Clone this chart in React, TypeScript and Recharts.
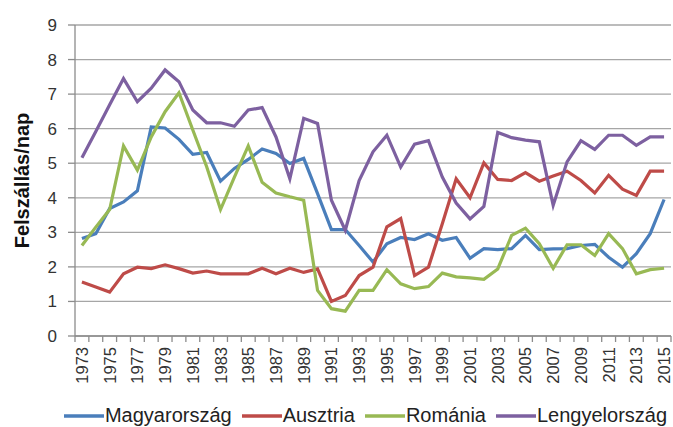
import { LineChart, Line, XAxis, YAxis, CartesianGrid, Legend } from "recharts";

const years = [
  1973, 1974, 1975, 1976, 1977, 1978, 1979, 1980, 1981, 1982, 1983, 1984, 1985, 1986,
  1987, 1988, 1989, 1990, 1991, 1992, 1993, 1994, 1995, 1996, 1997, 1998, 1999, 2000,
  2001, 2002, 2003, 2004, 2005, 2006, 2007, 2008, 2009, 2010, 2011, 2012, 2013, 2014, 2015,
];

const magyarorszag = [
  2.82, 2.96, 3.69, 3.88, 4.2, 6.05, 6.02, 5.69, 5.26, 5.31, 4.48, 4.85, 5.11, 5.41,
  5.28, 4.99, 5.14, 4.12, 3.08, 3.08, 2.62, 2.14, 2.67, 2.85, 2.79, 2.96, 2.77, 2.85,
  2.25, 2.53, 2.5, 2.53, 2.91, 2.5, 2.52, 2.53, 2.62, 2.65, 2.28, 1.99, 2.38, 2.96, 3.95,
];

const ausztria = [
  1.56, 1.42, 1.27, 1.8, 1.99, 1.95, 2.06, 1.95, 1.82, 1.88, 1.8, 1.8, 1.8, 1.96,
  1.8, 1.96, 1.84, 1.94, 1.0, 1.17, 1.75, 1.99, 3.16, 3.4, 1.75, 1.99, 3.25, 4.55,
  4.0, 5.01, 4.53, 4.5, 4.73, 4.48, 4.63, 4.77, 4.5, 4.14, 4.65, 4.25, 4.07, 4.77, 4.77,
];

const romania = [
  2.62, 3.15, 3.66, 5.5, 4.8, 5.76, 6.49, 7.04, 5.96, 4.9, 3.66, 4.6, 5.5, 4.45,
  4.14, 4.03, 3.93, 1.32, 0.79, 0.72, 1.32, 1.32, 1.92, 1.51, 1.37, 1.43, 1.82, 1.71,
  1.68, 1.64, 1.94, 2.91, 3.12, 2.67, 1.96, 2.64, 2.64, 2.33, 2.96, 2.53, 1.8, 1.92, 1.96,
];

const lengyelorszag = [
  5.16, 5.92, 6.69, 7.45, 6.78, 7.17, 7.7, 7.36, 6.54, 6.17, 6.17, 6.07, 6.54, 6.61,
  5.76, 4.55, 6.3, 6.15, 3.93, 3.06, 4.5, 5.33, 5.81, 4.89, 5.55, 5.65, 4.6, 3.85,
  3.39, 3.75, 5.89, 5.74, 5.67, 5.62, 3.78, 5.04, 5.65, 5.4, 5.81, 5.81, 5.52, 5.76, 5.76,
];

const yTicks = [0, 1, 2, 3, 4, 5, 6, 7, 8, 9];

const series = [
  { key: "hu", name: "Magyarország", color: "#4a7ebb" },
  { key: "at", name: "Ausztria", color: "#be4b48" },
  { key: "ro", name: "Románia", color: "#98b954" },
  { key: "pl", name: "Lengyelország", color: "#7d60a0" },
];

const data = years.map((year, i) => ({
  idx: i,
  year,
  hu: magyarorszag[i],
  at: ausztria[i],
  ro: romania[i],
  pl: lengyelorszag[i],
}));

// tick marks sit between years, labels on every other year
const xTicks: number[] = [];
for (let i = 0; i <= years.length; i++) {
  xTicks.push(i - 0.5);
  if (i < years.length && i % 2 === 0) xTicks.push(i);
}

const FONT = "'Liberation Sans', Arial, sans-serif";

const YearTick = (props: any) => {
  const { x, y, payload } = props;
  const v = payload.value as number;
  if (!Number.isInteger(v)) {
    return <line x1={x} x2={x} y1={y} y2={y + 6} stroke="#8c8c8c" strokeWidth={1.3} />;
  }
  return (
    <text
      x={x}
      y={y + 11}
      transform={`rotate(-90, ${x}, ${y + 11})`}
      textAnchor="end"
      dominantBaseline="central"
      fontSize={16.5}
      fontFamily={FONT}
      fill="#333"
    >
      {years[v]}
    </text>
  );
};

const LegendContent = () => (
  <div
    style={{
      display: "flex",
      justifyContent: "center",
      gap: 10,
      fontFamily: FONT,
      fontSize: 20,
      color: "#222",
      paddingLeft: 58,
    }}
  >
    {series.map((s) => (
      <div key={s.key} style={{ display: "flex", alignItems: "center" }}>
        <svg width={40} height={6} style={{ marginRight: 1 }}>
          <line x1={0} x2={40} y1={3} y2={3} stroke={s.color} strokeWidth={3.5} />
        </svg>
        <span>{s.name}</span>
      </div>
    ))}
  </div>
);

export default function App() {
  return (
    <div style={{ position: "absolute", left: 0, top: 0, background: "#fff" }}>
      <LineChart
        width={673}
        height={427}
        data={data}
        margin={{ top: 25, right: 2, bottom: 36, left: 0 }}
      >
        <CartesianGrid vertical={false} stroke="#a6a6a6" strokeWidth={1.3} />
        <XAxis
          dataKey="idx"
          type="number"
          domain={[-0.5, years.length - 0.5]}
          ticks={xTicks}
          interval={0}
          height={55}
          tickLine={false}
          tickSize={0}
          tickMargin={0}
          tick={<YearTick />}
          stroke="#8c8c8c"
          strokeWidth={1.3}
        />
        <YAxis
          domain={[0, 9]}
          ticks={yTicks}
          interval={0}
          width={75}
          tickSize={7}
          tickMargin={11}
          stroke="#8c8c8c"
          strokeWidth={1.3}
          tick={{ fontSize: 17, fill: "#333", fontFamily: FONT }}
          label={{
            value: "Felszállás/nap",
            angle: -90,
            position: "insideLeft",
            offset: 22,
            style: {
              textAnchor: "middle",
              fontSize: 20,
              fontWeight: "bold",
              fontFamily: FONT,
              fill: "#111",
            },
          }}
        />
        <Legend
          verticalAlign="middle"
          align="center"
          layout="horizontal"
          content={<LegendContent />}
          wrapperStyle={{ top: 404, left: 0, width: 673 }}
        />
        {series.map((s) => (
          <Line
            key={s.key}
            dataKey={s.key}
            name={s.name}
            stroke={s.color}
            strokeWidth={3.2}
            dot={false}
            isAnimationActive={false}
          />
        ))}
      </LineChart>
    </div>
  );
}
